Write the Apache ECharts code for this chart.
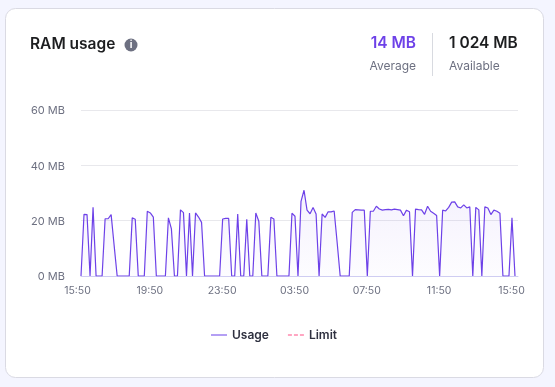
<!DOCTYPE html>
<html><head><meta charset="utf-8">
<style>html,body{margin:0;padding:0;background:#f4f5ff}#c{width:555px;height:387px}</style>
<script src="https://cdn.jsdelivr.net/npm/echarts@6/dist/echarts.min.js"></script>
</head><body><div id="c"></div>
<script>
const hourLabels=['15:50','19:50','23:50','03:50','07:50','11:50','15:50'];
const usage=[0,22.3,22.2,0,24.8,0,0,0,20.7,20.7,22.2,11,0,0,0,0,0,21,20.5,0,0,0,23.4,22.8,21.3,0,0,0,0,21,17,0,0,23.9,22.9,0,22.8,0,22.8,21.3,19.4,0,0,0,0,0,0,20.6,20.8,20.8,0,0,22.4,0,0,20.5,0,0,22.8,19.8,0,0,0,21.2,20.6,0,0,0,0,0,22.7,21.6,0,27,31,23.8,22.5,24.8,22.4,0,22.4,21.2,23.2,23.2,23.5,12,0,0,0,0,23,24,23.9,23.8,23.8,0,23.4,23.4,25.2,24.2,23.8,24,24.1,23.9,24.2,24,23.8,21.8,23.8,23.2,0,24.2,24,23.9,22.3,25.2,23.4,22.7,21.9,0,23.8,23.5,24.8,26.7,26.8,25,24.6,25.7,24.6,25,0,24.8,23.9,0,25,24.6,22.2,23.8,23.4,22.7,0,0,0,21,0];
const categories=usage.map((v,i)=>i%24===0?hourLabels[i/24]:'');
const yTicks=[0,20,40,60];
const FONT='"Inter","Noto Sans",sans-serif';
const MUTED='#6d7081',DARK='#1d1e20',PURPLE='#6d41e8';
const txt=(x,y,t,size,weight,fill,align)=>({type:'text',x,y,style:{text:t,font:`${weight} ${size}px ${FONT}`,fill,align:align||'left',verticalAlign:'middle'}});
const chart=echarts.init(document.getElementById('c'),null,{renderer:'canvas'});
chart.setOption({
  animation:false,
  backgroundColor:'#f4f5ff',
  graphic:{elements:[
    {type:'rect',z:-10,shape:{x:5.5,y:8.5,width:538,height:369,r:10},style:{fill:'#fff',stroke:'#dadae3',lineWidth:1}},
    txt(30,44,'RAM usage',15.5,600,DARK),
    {type:'circle',shape:{cx:131,cy:45,r:6.5},style:{fill:MUTED}},
    txt(131,45,'i',10,700,'#fff','center'),
    txt(416,43,'14 MB',15.5,600,PURPLE,'right'),
    txt(416,66,'Average',12,400,MUTED,'right'),
    {type:'line',shape:{x1:432.5,y1:33,x2:432.5,y2:76},style:{stroke:'#d8dae0',lineWidth:1}},
    txt(449,43,'1 024 MB',15.5,600,DARK),
    txt(449,66,'Available',12,400,MUTED)
  ]},
  grid:{left:81,right:37,top:110,height:166,containLabel:false},
  legend:{
    top:324,left:206,itemWidth:16,itemHeight:2,itemGap:19,
    textStyle:{fontFamily:FONT,fontSize:12,fontWeight:600,color:'#2f3140'},
    data:[{name:'Usage',icon:'rect',itemStyle:{color:'#b49ff4'}},{name:'Limit',icon:'path://M0 0h4v2H0z M6 0h4v2H6z M12 0h4v2H12z',itemStyle:{color:'#ffa6c2'}}]
  },
  xAxis:{type:'category',boundaryGap:false,data:categories,max:145,
    axisLine:{lineStyle:{color:'#cfcdf2',width:1}},axisTick:{show:false},splitLine:{show:false},
    axisLabel:{interval:0,showMinLabel:true,showMaxLabel:false,color:MUTED,fontFamily:FONT,fontSize:10.5,margin:9,padding:[0,7,0,0],hideOverlap:false}},
  yAxis:{type:'value',min:0,max:60,interval:20,
    axisLine:{show:false},axisTick:{show:false},
    axisLabel:{color:MUTED,fontFamily:FONT,fontSize:11,margin:16,verticalAlign:'top',lineHeight:2,formatter:v=>yTicks.includes(v)?v+' MB':''},
    splitLine:{lineStyle:{color:'#e8e8ec',width:1}}},
  series:[
    {name:'Usage',type:'line',data:usage,symbol:'none',showSymbol:false,smooth:false,z:3,
     lineStyle:{color:PURPLE,width:1.2},itemStyle:{color:PURPLE},
     areaStyle:{color:new echarts.graphic.LinearGradient(0,0,0,1,[{offset:0,color:'rgba(109,65,232,0.10)'},{offset:1,color:'rgba(109,65,232,0.02)'}])}},
    {name:'Limit',type:'line',data:[],symbol:'none',lineStyle:{color:'#ffa6c2',width:1,type:'dashed'},itemStyle:{color:'#ffa6c2'}}
  ]
});
</script></body></html>
